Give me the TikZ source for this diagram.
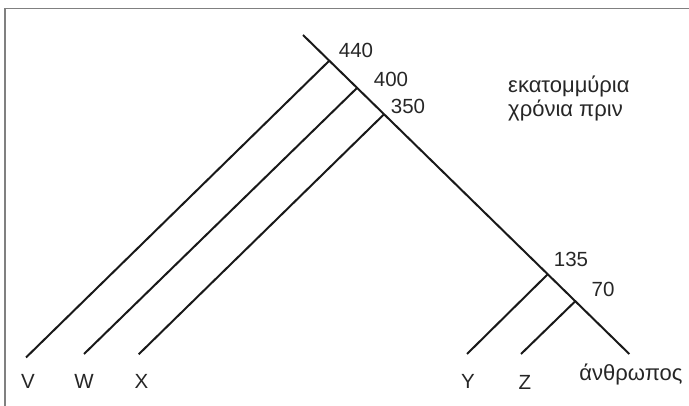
\documentclass[tikz,border=0pt]{standalone}
\usepackage{fontspec}
\setmainfont{Liberation Sans}
\begin{document}
\begin{tikzpicture}[x=1pt,y=-1pt,
  branch/.style={line width=2pt,black!90},
  frame/.style={line width=1.4pt,black!50},
  lbl/.style={font=\fontsize{20.5}{23}\selectfont,text=black!85,inner sep=0pt},
  glbl/.style={font=\fontsize{22}{25}\selectfont,text=black!85,inner sep=0pt}]
\useasboundingbox (0,0) rectangle (689,406);
% frame (top and left edges visible)
\coordinate (fa) at (4.8,406);
\coordinate (fb) at (4.8,8.7);
\coordinate (fc) at (689,8.7);
\draw[frame] (fa) -- (fb) -- (fc);
% main line
\coordinate (T) at (303,35);
\coordinate (E) at (629.3,354);
\coordinate (j440) at (329.3,60.7);
\coordinate (j400) at (357.3,87.7);
\coordinate (j350) at (384,114.3);
\coordinate (j135) at (547.7,274.3);
\coordinate (j70) at (575,301.5);
\coordinate (eV) at (26,357.5);
\coordinate (eW) at (84,354);
\coordinate (eX) at (138.7,354.3);
\coordinate (eY) at (467,354);
\coordinate (eZ) at (521,354);
\draw[branch] (T) -- (E);
\draw[branch] (j440) -- (eV);
\draw[branch] (j400) -- (eW);
\draw[branch] (j350) -- (eX);
\draw[branch] (j135) -- (eY);
\draw[branch] (j70) -- (eZ);
% labels
\node[lbl] (l440) at (356,50) {440};
\node[lbl] (l400) at (391,79) {400};
\node[lbl] (l350) at (408,106) {350};
\node[lbl] (l135) at (571,259) {135};
\node[lbl] (l70) at (603,289) {70};
\node[glbl,anchor=base west] (note1) at (508,93) {εκατομμύρια};
\node[glbl,anchor=base west] (note2) at (508,117) {χρόνια πριν};
\node[lbl] (lV) at (28,381) {V};
\node[lbl] (lW) at (84,381) {W};
\node[lbl] (lX) at (141.5,381) {X};
\node[lbl] (lY) at (468,381) {Y};
\node[lbl] (lZ) at (525,382) {Z};
\node[glbl,anchor=base] (lman) at (631,381) {άνθρωπος};
\end{tikzpicture}
\end{document}
